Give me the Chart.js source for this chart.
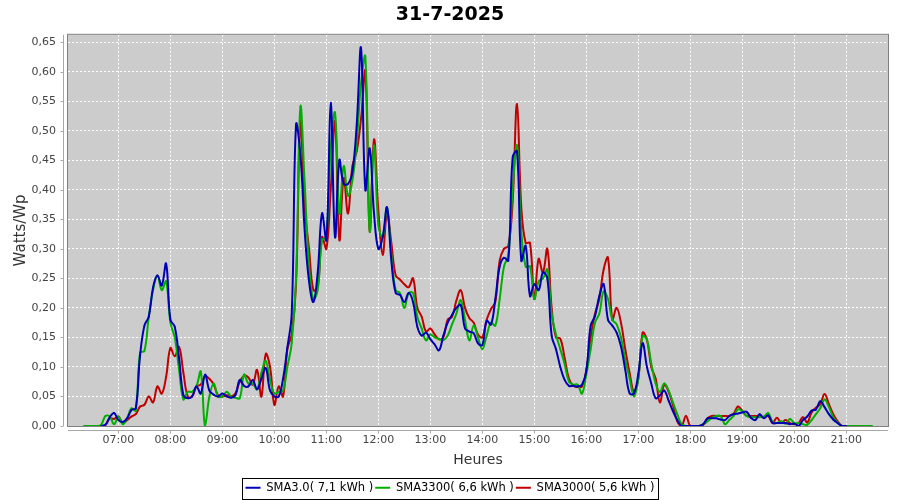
<!DOCTYPE html>
<html lang="fr">
<head>
<meta charset="UTF-8">
<title>31-7-2025</title>
<script src="https://cdn.jsdelivr.net/npm/chart.js"></script>
<style>
    body { margin: 0; background: #fff; }
    #wrap { width: 900px; height: 500px; }
</style>
</head>
<body>
<div id="wrap"><canvas id="prodChart" width="900" height="500"></canvas></div>
<script>
// samples every 5 minutes, first one at 06:20
const firstSample = '06:20';
const stepMinutes = 5;

const hourLabels = ['07:00', '08:00', '09:00', '10:00', '11:00', '12:00', '13:00', '14:00',
    '15:00', '16:00', '17:00', '18:00', '19:00', '20:00', '21:00'];
const yTicks = [0, 0.05, 0.10, 0.15, 0.20, 0.25, 0.30, 0.35, 0.40, 0.45, 0.50, 0.55, 0.60, 0.65];

const seriesNames = ['SMA3.0( 7,1 kWh )', 'SMA3300( 6,6 kWh )', 'SMA3000( 5,6 kWh )'];

// one row per hour
const sma30 = [
    null, null, null, null, 0, 0.002, 0.015, 0.022,
    0.01, 0.007, 0.013, 0.027, 0.03, 0.12, 0.17, 0.185, 0.235, 0.255, 0.238, 0.275,
    0.18, 0.168, 0.115, 0.052, 0.047, 0.05, 0.067, 0.055, 0.087, 0.06, 0.053, 0.05,
    0.055, 0.05, 0.048, 0.052, 0.078, 0.068, 0.067, 0.078, 0.062, 0.08, 0.098, 0.06,
    0.05, 0.05, 0.08, 0.133, 0.19, 0.51, 0.46, 0.33, 0.245, 0.21, 0.26, 0.36,
    0.315, 0.547, 0.32, 0.45, 0.41, 0.41, 0.43, 0.51, 0.64, 0.40, 0.47, 0.36,
    0.30, 0.32, 0.37, 0.28, 0.225, 0.222, 0.21, 0.225, 0.21, 0.168, 0.153, 0.158,
    0.147, 0.138, 0.128, 0.153, 0.175, 0.188, 0.2, 0.205, 0.165, 0.16, 0.157, 0.14,
    0.137, 0.178, 0.172, 0.215, 0.27, 0.285, 0.28, 0.455, 0.465, 0.28, 0.305, 0.22,
    0.24, 0.23, 0.26, 0.25, 0.153, 0.13, 0.1, 0.078, 0.068, 0.068, 0.067, 0.07,
    0.093, 0.17, 0.186, 0.22, 0.24, 0.18, 0.17, 0.158, 0.135, 0.095, 0.055, 0.055,
    0.088, 0.14, 0.1, 0.072, 0.047, 0.052, 0.06, 0.043, 0.025, 0.01, 0, 0,
    0, 0, 0, 0.003, 0.013, 0.013, 0.013, 0.011, 0.01, 0.017, 0.02, 0.021,
    0.023, 0.024, 0.014, 0.01, 0.02, 0.013, 0.018, 0.005, 0.005, 0.005, 0.005, 0.003,
    0.004, 0, 0.01, 0.016, 0.026, 0.028, 0.042, 0.032, 0.02, 0.011, 0.005, 0,
    0, null, null, null, null, null, null
];
const sma3300 = [
    0, 0, 0, 0, 0.002, 0.017, 0.016, 0.003,
    0.016, 0.003, 0.013, 0.03, 0.026, 0.124, 0.127, 0.185, 0.23, 0.255, 0.23, 0.245,
    0.175, 0.15, 0.095, 0.045, 0.058, 0.058, 0.067, 0.092, 0.0, 0.05, 0.072, 0.05,
    0.05, 0.058, 0.05, 0.048, 0.047, 0.087, 0.072, 0.072, 0.062, 0.09, 0.11, 0.078,
    0.055, 0.058, 0.06, 0.10, 0.14, 0.25, 0.54, 0.41, 0.27, 0.215, 0.23, 0.315,
    0.32, 0.47, 0.53, 0.36, 0.44, 0.39, 0.415, 0.48, 0.58, 0.625, 0.33, 0.475,
    0.34, 0.32, 0.37, 0.29, 0.23, 0.225, 0.2, 0.225, 0.225, 0.185, 0.165, 0.145,
    0.155, 0.15, 0.147, 0.145, 0.153, 0.172, 0.19, 0.213, 0.18, 0.145, 0.17, 0.15,
    0.13, 0.153, 0.175, 0.17, 0.215, 0.27, 0.29, 0.40, 0.475, 0.33, 0.27, 0.27,
    0.215, 0.245, 0.25, 0.265, 0.19, 0.155, 0.13, 0.105, 0.075, 0.07, 0.07, 0.055,
    0.087, 0.13, 0.175, 0.19, 0.228, 0.215, 0.18, 0.172, 0.15, 0.112, 0.08, 0.05,
    0.08, 0.152, 0.146, 0.106, 0.072, 0.058, 0.072, 0.06, 0.04, 0.02, 0.003, 0,
    0, 0, 0, 0.003, 0.008, 0.014, 0.017, 0.017, 0.003, 0.01, 0.017, 0.028,
    0.025, 0.017, 0.015, 0.015, 0.015, 0.016, 0.022, 0.007, 0.005, 0.008, 0.004, 0.012,
    0.005, 0.005, 0.003, 0.002, 0.01, 0.02, 0.03, 0.045, 0.032, 0.015, 0.006, 0,
    0, 0, 0, 0, 0, 0, 0
];
const sma3000 = [
    null, null, null, null, 0, 0.002, 0.013, 0.012,
    0.016, 0.005, 0.01, 0.016, 0.02, 0.033, 0.036, 0.05, 0.04, 0.067, 0.055, 0.083,
    0.132, 0.118, 0.134, 0.09, 0.05, 0.05, 0.067, 0.07, 0.084, 0.08, 0.07, 0.052,
    0.05, 0.052, 0.05, 0.055, 0.075, 0.085, 0.082, 0.07, 0.095, 0.05, 0.122, 0.10,
    0.036, 0.067, 0.05, 0.13, 0.155, 0.24, 0.515, 0.37, 0.30, 0.23, 0.235, 0.32,
    0.30, 0.40, 0.515, 0.315, 0.42, 0.36, 0.44, 0.465, 0.52, 0.60, 0.33, 0.485,
    0.365, 0.29, 0.36, 0.31, 0.255, 0.248, 0.24, 0.235, 0.25, 0.20, 0.185, 0.16,
    0.165, 0.155, 0.147, 0.15, 0.18, 0.185, 0.212, 0.23, 0.20, 0.183, 0.175, 0.155,
    0.15, 0.18, 0.198, 0.21, 0.28, 0.30, 0.305, 0.38, 0.545, 0.37, 0.31, 0.31,
    0.215, 0.283, 0.26, 0.30, 0.20, 0.15, 0.148, 0.115, 0.08, 0.068, 0.066, 0.067,
    0.095, 0.15, 0.19, 0.215, 0.265, 0.285, 0.18, 0.20, 0.175, 0.13, 0.09, 0.058,
    0.08, 0.158, 0.146, 0.10, 0.08, 0.04, 0.07, 0.058, 0.035, 0.008, 0, 0.017,
    0, 0, 0, 0.002, 0.013, 0.017, 0.017, 0.017, 0.017, 0.017, 0.021, 0.033,
    0.026, 0.017, 0.017, 0.017, 0.017, 0.015, 0.017, 0.005, 0.014, 0.005, 0.01, 0.005,
    0.003, 0.005, 0.015, 0.006, 0.023, 0.031, 0.037, 0.054, 0.037, 0.02, 0.008, 0,
    0, null, null, null, null, null, null
];

function toMinutes(hhmm) {
    const [h, m] = hhmm.split(':').map(Number);
    return h * 60 + m;
}
function fmtTime(min) {
    const h = Math.floor(min / 60), m = Math.round(min % 60);
    return String(h).padStart(2, '0') + ':' + String(m).padStart(2, '0');
}

const start = toMinutes(firstSample);
function toPoints(vals) {
    return vals.map((v, i) => ({ x: start + i * stepMinutes, y: v }));
}

// plot background, outline, offset axis lines, tick marks, legend frame
const frame = {
    id: 'frame',
    beforeDraw(chart) {
        const { ctx, chartArea: a } = chart;
        ctx.save();
        ctx.fillStyle = '#cccccc';
        ctx.fillRect(a.left, a.top, a.right - a.left, a.bottom - a.top);
        ctx.restore();
    },
    afterDraw(chart) {
        const { ctx, chartArea: a, scales } = chart;
        ctx.save();
        ctx.lineWidth = 1;
        ctx.strokeStyle = '#808080';
        ctx.strokeRect(a.left - 0.5, a.top - 0.5, a.right - a.left + 1, a.bottom - a.top + 1);

        ctx.strokeStyle = '#a8a8a8';
        ctx.beginPath();
        ctx.moveTo(a.left - 4.5, a.top);
        ctx.lineTo(a.left - 4.5, a.bottom);
        ctx.moveTo(a.left, a.bottom + 4.5);
        ctx.lineTo(a.right, a.bottom + 4.5);
        scales.y.ticks.forEach(t => {
            const y = Math.round(scales.y.getPixelForValue(t.value)) + 0.5;
            ctx.moveTo(a.left - 4.5, y);
            ctx.lineTo(a.left - 7.5, y);
        });
        scales.x.ticks.forEach(t => {
            const x = Math.round(scales.x.getPixelForValue(t.value)) + 0.5;
            ctx.moveTo(x, a.bottom + 4.5);
            ctx.lineTo(x, a.bottom + 7.5);
        });
        ctx.stroke();

        const boxes = chart.legend.legendHitBoxes;
        if (boxes && boxes.length) {
            const l = Math.min(...boxes.map(b => b.left)) - 4;
            const r = Math.max(...boxes.map(b => b.left + b.width)) + 3;
            const t = Math.min(...boxes.map(b => b.top)) - 4;
            const btm = Math.max(...boxes.map(b => b.top + b.height)) + 5;
            ctx.strokeStyle = '#000';
            ctx.strokeRect(Math.round(l) + 0.5, Math.round(t) + 0.5, Math.round(r - l), Math.round(btm - t));
        }
        ctx.restore();
    }
};

Chart.defaults.font.family = "'DejaVu Sans', sans-serif";

function line(label, vals, color) {
    return {
        label: label,
        data: toPoints(vals),
        borderColor: color,
        backgroundColor: color,
        borderWidth: 2,
        pointRadius: 1,
        pointBorderWidth: 0,
        pointStyle: 'rect',
        tension: 0.4,
        spanGaps: false
    };
}

new Chart(document.getElementById('prodChart'), {
    type: 'line',
    data: {
        datasets: [
            line(seriesNames[0], sma30, '#0000b4'),
            line(seriesNames[1], sma3300, '#00b000'),
            line(seriesNames[2], sma3000, '#c00000')
        ]
    },
    options: {
        responsive: false,
        animation: false,
        devicePixelRatio: 1,
        layout: { padding: { left: 12, right: 12, top: 0, bottom: 0 } },
        plugins: {
            tooltip: { enabled: false },
            title: {
                display: true,
                text: '31-7-2025',
                color: '#000',
                font: { size: 19, weight: 'bold' },
                padding: { top: 4, bottom: 8 }
            },
            legend: {
                position: 'bottom',
                maxHeight: 20,
                labels: {
                    color: '#000',
                    font: { size: 11.5 },
                    usePointStyle: true,
                    pointStyle: 'line',
                    pointStyleWidth: 15,
                    padding: 2,
                    generateLabels: chart =>
                        Chart.defaults.plugins.legend.labels.generateLabels(chart)
                            .map(item => Object.assign(item, { lineWidth: 2 }))
                }
            }
        },
        scales: {
            x: {
                type: 'linear',
                min: 361.8,
                max: 1308.2,
                afterBuildTicks: axis => {
                    axis.ticks = hourLabels.map(h => ({ value: toMinutes(h) }));
                },
                afterFit: axis => { axis.height = 54; },
                ticks: {
                    color: '#444',
                    font: { size: 11 },
                    padding: 8,
                    maxRotation: 0,
                    autoSkip: false,
                    callback: v => fmtTime(v)
                },
                grid: { color: '#ffffff', lineWidth: 1, drawTicks: false },
                border: { display: false, dash: [2, 2] },
                title: {
                    display: true,
                    text: 'Heures',
                    color: '#333',
                    font: { size: 14 },
                    padding: { top: 0, bottom: 11.6 }
                }
            },
            y: {
                min: 0,
                max: 0.6624,
                afterBuildTicks: axis => {
                    axis.ticks = yTicks.map(v => ({ value: v }));
                },
                afterFit: axis => { axis.width = 56; },
                ticks: {
                    color: '#444',
                    font: { size: 11 },
                    padding: 12,
                    callback: v => v.toFixed(2).replace('.', ',')
                },
                grid: { color: '#ffffff', lineWidth: 1, drawTicks: false },
                border: { display: false, dash: [2, 2] },
                title: {
                    display: true,
                    text: 'Watts/Wp',
                    color: '#333',
                    font: { size: 15 },
                    padding: { top: 0, bottom: 0 }
                }
            }
        }
    },
    plugins: [frame]
});
</script>
</body>
</html>
